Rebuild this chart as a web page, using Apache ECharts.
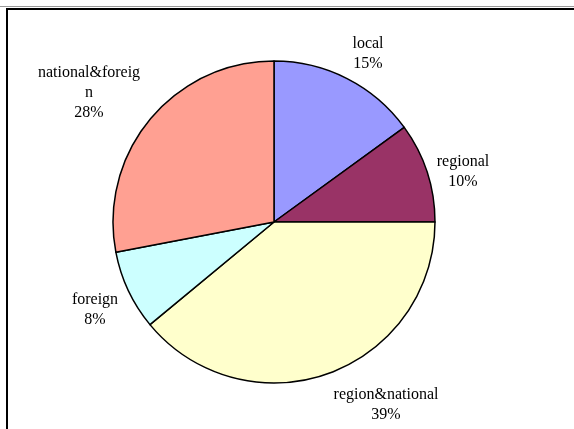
<!DOCTYPE html>
<html>
<head>
<meta charset="utf-8">
<script src="https://cdn.jsdelivr.net/npm/echarts@6/dist/echarts.min.js"></script>
<style>
html,body{margin:0;padding:0;background:#fff;}
#frame{position:absolute;left:6px;top:8px;width:580px;height:440px;border:2px solid #000;box-sizing:border-box;}
#top{position:absolute;left:0;top:6px;width:574px;height:1px;background:#999;}
#chart{position:absolute;left:0;top:0;width:574px;height:429px;}
</style>
</head>
<body>
<div id="top"></div>
<div id="frame"></div>
<div id="chart"></div>
<script>
const categories = ['local', 'regional', 'region&national', 'foreign', 'national&foreign'];
const values = [15, 10, 39, 8, 28];
const colors = ['#9999FF', '#993366', '#FFFFCC', '#CCFFFF', '#FFA092'];
// label centre offsets from pie centre (layout style)
const labelOffset = [[94, -168], [189, -50], [112, 183], [-179, 88], [-185, -129]];

const cx = 274, cy = 222, r = 161;

const chart = echarts.init(document.getElementById('chart'));
chart.setOption({
  animation: false,
  series: [{
    type: 'pie',
    center: [cx, cy],
    radius: [0, r],
    startAngle: 90,
    clockwise: true,
    data: categories.map((c, i) => {
      const d = { name: c, value: values[i], itemStyle: { color: colors[i] } };
      if (c === 'national&foreign') d.label = { width: 103, overflow: 'breakAll' };
      return d;
    }),
    itemStyle: { borderColor: '#000', borderWidth: 1.5 },
    label: {
      show: true,
      position: 'outside',
      formatter: '{b}\n{d}%',
      fontFamily: 'Liberation Serif',
      fontSize: 16,
      lineHeight: 20,
      color: '#000',
      align: 'center'
    },
    labelLine: { show: false },
    labelLayout: function (p) {
      const o = labelOffset[p.dataIndex];
      return { x: cx + o[0], y: cy + o[1], align: 'center', verticalAlign: 'middle' };
    },
    emphasis: { disabled: true }
  }]
});
</script>
</body>
</html>
